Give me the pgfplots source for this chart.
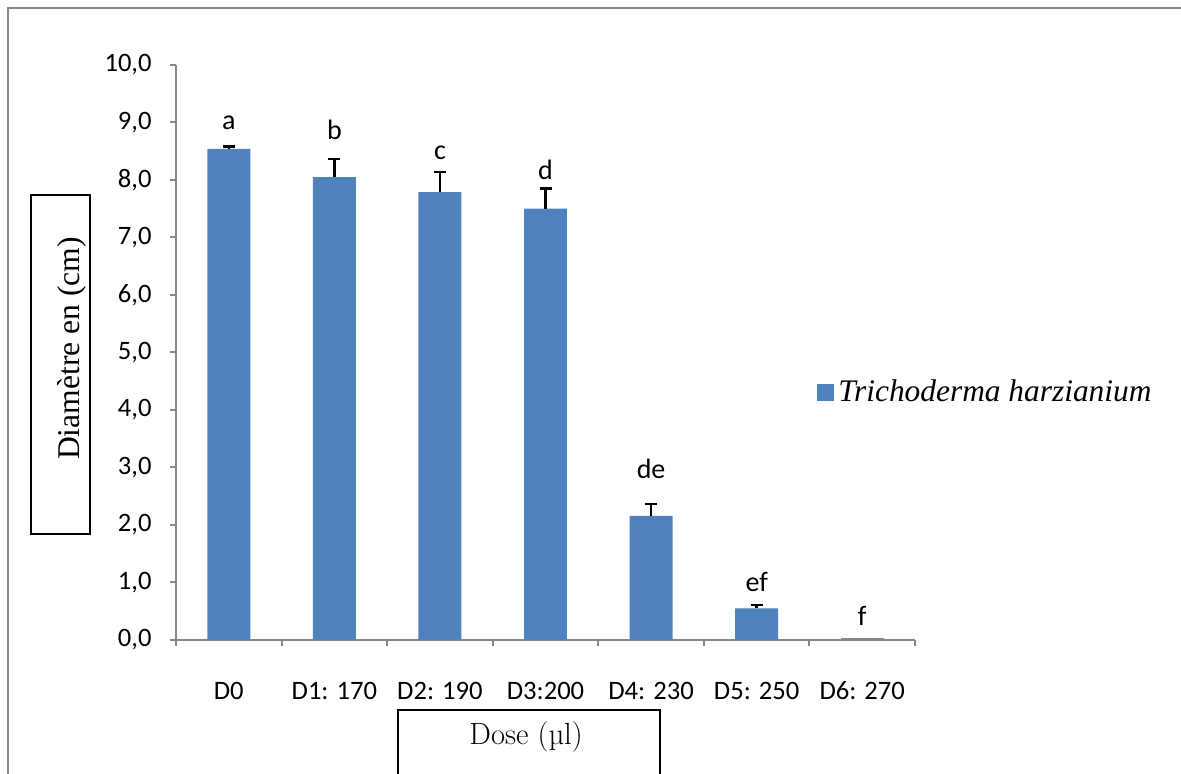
\documentclass[border=0pt]{standalone}
\usepackage{fontspec}
\setmainfont{Liberation Serif}
\newfontfamily\calibri{Carlito}
\newfontfamily\lmr{Latin Modern Roman}
\usepackage{pgfplots}
\pgfplotsset{compat=1.18}

\definecolor{barblue}{HTML}{4F81BD}
\definecolor{axgray}{HTML}{868686}

\begin{document}
\begin{tikzpicture}
\useasboundingbox (0pt,0pt) rectangle (590.5pt,387pt);

% outer chart frame (top and left edges)
\draw[axgray, line width=1pt] (3.75pt,-2pt) -- (3.75pt,383pt) -- (593pt,383pt);

% boxed axis titles
\draw[black, line width=1pt] (15.5pt,120pt) rectangle (45pt,289.5pt);
\node[rotate=90, font=\fontsize{15.8}{18}\selectfont, inner sep=0pt] at (36pt,212.75pt) {Diamètre en (cm)};
\draw[black, line width=0.8pt] (199pt,-2pt) -- (199pt,32pt) -- (330pt,32pt) -- (330pt,-2pt);
\node[font=\lmr\fontsize{15.3}{17}\selectfont, inner sep=0pt] at (263pt,18.5pt) {Dose (µl)};

\begin{axis}[
  at={(88pt,67pt)}, anchor=south west,
  scale only axis, width=369.5pt, height=287.5pt,
  xmin=-0.5, xmax=6.5, ymin=0, ymax=10,
  axis x line*=bottom, axis y line*=left,
  axis line style={axgray, line width=1pt, -},
  ytick={0,1,...,10},
  xtick={0,...,6},
  xticklabels={D0, D1: 170, D2: 190, D3:200, D4: 230, D5: 250, D6: 270},
  major x tick style={draw=none},
  minor xtick={-0.5,0.5,...,6.5},
  minor x tick style={axgray, line width=1pt},
  major y tick style={axgray, line width=1pt},
  tick align=outside,
  major tick length=3pt, minor tick length=3pt,
  /pgf/number format/.cd, fixed, fixed zerofill, precision=1, use comma, assume math mode=true,
  /pgfplots/.cd,
  tick label style={font=\calibri\fontsize{13.3}{15}\selectfont},
  yticklabel style={inner sep=0pt, anchor=east, xshift=-9pt},
  xticklabel style={inner sep=0pt, anchor=center, yshift=-22.5pt},
  ybar, bar width=0.407, bar shift=0pt,
  legend style={draw=none, fill=none, at={(0.8674,0.4304)}, anchor=west,
    inner sep=0pt, font=\itshape\fontsize{15.7}{18}\selectfont},
  legend cell align=left,
  legend image code/.code={\fill[barblue] (0pt,-4.25pt) rectangle (8.5pt,4.25pt);},
  clip=false,
]
% mean diameters with upper standard errors
\addplot[fill=barblue, draw=none,
  error bars/.cd, y dir=plus, y explicit,
  error bar style={black, line width=1.2pt},
  error mark options={black, line width=1.2pt, mark size=3pt, rotate=90}]
  coordinates {
    (0,8.54) +- (0,0.04)
    (1,8.05) +- (0,0.31)
    (2,7.79) +- (0,0.35)
    (3,7.50) +- (0,0.35)
    (4,2.16) +- (0,0.20)
    (5,0.55) +- (0,0.06)
  };
\addlegendentry{Trichoderma harzianium}
% D6: no growth
\addplot[fill=axgray, draw=none, forget plot] coordinates {(6,0.03)};

% significance letters
\begin{scope}[every node/.style={anchor=base, inner sep=0pt, font=\calibri\fontsize{14}{16}\selectfont}]
\node at (axis cs:0,8.87) {a};
\node at (axis cs:1,8.70) {b};
\node at (axis cs:2,8.35) {c};
\node at (axis cs:3,8.00) {d};
\node at (axis cs:4,2.80) {de};
\node at (axis cs:5,0.835) {ef};
\node at (axis cs:6,0.26) {f};
\end{scope}
\end{axis}
\end{tikzpicture}
\end{document}
